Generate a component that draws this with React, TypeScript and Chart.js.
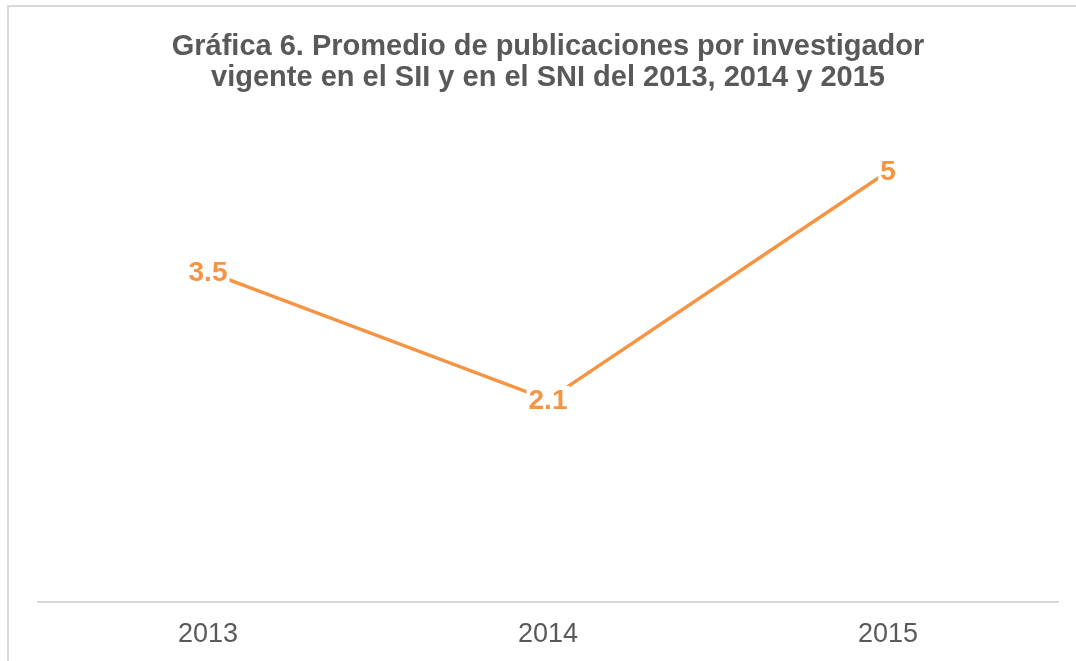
import React, { useEffect, useRef } from "react";
import { Chart, registerables } from "chart.js";

Chart.register(...registerables);

const categories = ["2013", "2014", "2015"];
const promedio = [3.48, 2.13, 4.54];
const dataLabels = ["3.5", "2.1", "5"];
const titleLines = [
  "Gráfica 6. Promedio de publicaciones por investigador",
  "vigente en el SII y en el SNI del 2013, 2014 y 2015",
];

const ORANGE = "#F59443";
const GRAY_TEXT = "#595959";
const FONT = "'Liberation Sans', Arial, Helvetica, sans-serif";

const titlePlugin = {
  id: "customTitle",
  afterDraw(chart: any) {
    const ctx = chart.ctx;
    ctx.save();
    ctx.font = `bold 29px ${FONT}`;
    ctx.fillStyle = GRAY_TEXT;
    ctx.textAlign = "center";
    ctx.textBaseline = "middle";
    ctx.fillText(titleLines[0], 548, 47);
    ctx.fillText(titleLines[1], 548, 78);
    ctx.restore();
  },
};

const labelPlugin = {
  id: "pointLabels",
  afterDatasetsDraw(chart: any) {
    const ctx = chart.ctx;
    const meta = chart.getDatasetMeta(0);
    ctx.save();
    ctx.font = `bold 28px ${FONT}`;
    ctx.textAlign = "center";
    ctx.textBaseline = "middle";
    meta.data.forEach((pt: any, i: number) => {
      const text = dataLabels[i];
      const w = ctx.measureText(text).width;
      ctx.fillStyle = "#ffffff";
      ctx.fillRect(pt.x - w / 2 - 2, pt.y - 14, w + 4, 28);
      ctx.fillStyle = ORANGE;
      ctx.fillText(text, pt.x, pt.y + 1);
    });
    ctx.restore();
  },
};

export default function App() {
  const canvasRef = useRef<HTMLCanvasElement | null>(null);

  useEffect(() => {
    if (!canvasRef.current) return;
    const chart = new Chart(canvasRef.current, {
      type: "line",
      data: {
        labels: categories,
        datasets: [
          {
            data: promedio,
            borderColor: ORANGE,
            borderWidth: 3.5,
            pointRadius: 0,
            tension: 0,
            fill: false,
          },
        ],
      },
      options: {
        animation: false,
        responsive: false,
        maintainAspectRatio: false,
        layout: { padding: { left: 38, right: 18, top: 128, bottom: 0 } },
        plugins: {
          legend: { display: false },
          title: { display: false },
          tooltip: { enabled: false },
        },
        scales: {
          x: {
            offset: true,
            grid: { display: false, drawTicks: false },
            border: { display: true, color: "#d9d9d9", width: 2 },
            ticks: {
              color: GRAY_TEXT,
              font: { family: FONT, size: 27 },
              padding: 17,
            },
          },
          y: {
            display: false,
            min: 0,
            max: 5,
          },
        },
      },
      plugins: [titlePlugin, labelPlugin],
    });
    return () => chart.destroy();
  }, []);

  return (
    <div
      style={{
        position: "fixed",
        left: 0,
        top: 0,
        width: 1076,
        height: 661,
        overflow: "hidden",
        background: "#ffffff",
      }}
    >
      <div
        style={{
          position: "absolute",
          left: 7,
          top: 5,
          width: 1200,
          height: 800,
          borderLeft: "2px solid #d9d9d9",
          borderTop: "2px solid #d9d9d9",
        }}
      />
      <canvas
        ref={canvasRef}
        width={1076}
        height={668}
        style={{ position: "absolute", left: 0, top: 0, width: 1076, height: 668 }}
      />
    </div>
  );
}
